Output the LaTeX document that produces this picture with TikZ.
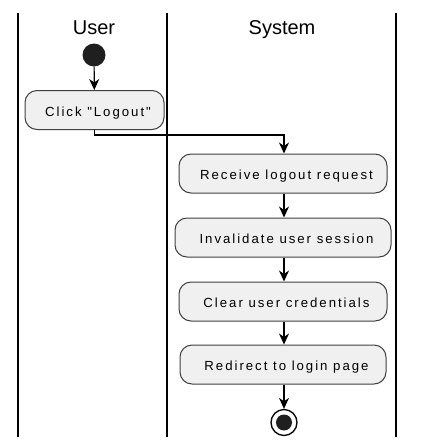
\documentclass[tikz,border=0pt]{standalone}
\usepackage{fontspec}
\setmainfont{Liberation Sans}
\newfontfamily\actfont[LetterSpace=15]{Liberation Sans}
\usetikzlibrary{arrows.meta}

\begin{document}
\begin{tikzpicture}[
  x=1pt, y=-1pt,
  lane/.style={line width=1.4pt},
  title/.style={font=\fontsize{20}{22}\selectfont, inner sep=0pt, anchor=base},
  act/.style={draw=black!75, fill=black!6, rounded corners=12pt, line width=1pt,
    minimum height=39pt, inner sep=0pt, font=\actfont\fontsize{13.2}{15}\selectfont,
    text height=12pt, text depth=0pt, execute at begin node=\hspace{7pt}},
  arr/.style={-{Stealth[length=11pt, width=10pt, inset=3.5pt]}, line width=1.2pt}
]
  \useasboundingbox (0,0) rectangle (421,448);
  % swimlanes
  \draw[lane] (18,13) -- (18,437);
  \draw[lane] (167,13) -- (167,437);
  \draw[lane] (396,13) -- (396,437);
  \node[title] (user) at (94,34) {User};
  \node[title] (sys) at (282,34) {System};
  % activities
  \node[circle, fill=black!88, minimum size=23pt, inner sep=0pt] (start) at (94,55) {};
  \node[act, minimum width=139pt] (click) at (94.5,110) {Click "Logout"};
  \node[act, minimum width=208pt] (recv) at (283,173.5) {Receive logout request};
  \node[act, minimum width=216pt] (inval) at (283,237.5) {Invalidate user session};
  \node[act, minimum width=208pt] (clear) at (283,301.5) {Clear user credentials};
  \node[act, minimum width=206pt] (redir) at (283,364.5) {Redirect to login page};
  \node[circle, draw, line width=1.3pt, minimum size=26pt, inner sep=0pt] (stop) at (284,422.5) {};
  \node[circle, fill=black!88, minimum size=16pt, inner sep=0pt] at (stop) {};
  % flow
  \draw[arr] (start) -- (click);
  \draw[arr] (click.south) -- ++(0,5) -| (recv.north -| stop);
  \draw[arr] (recv.south -| stop) -- (inval.north -| stop);
  \draw[arr] (inval.south -| stop) -- (clear.north -| stop);
  \draw[arr] (clear.south -| stop) -- (redir.north -| stop);
  \draw[arr] (redir.south -| stop) -- (stop);
\end{tikzpicture}
\end{document}
